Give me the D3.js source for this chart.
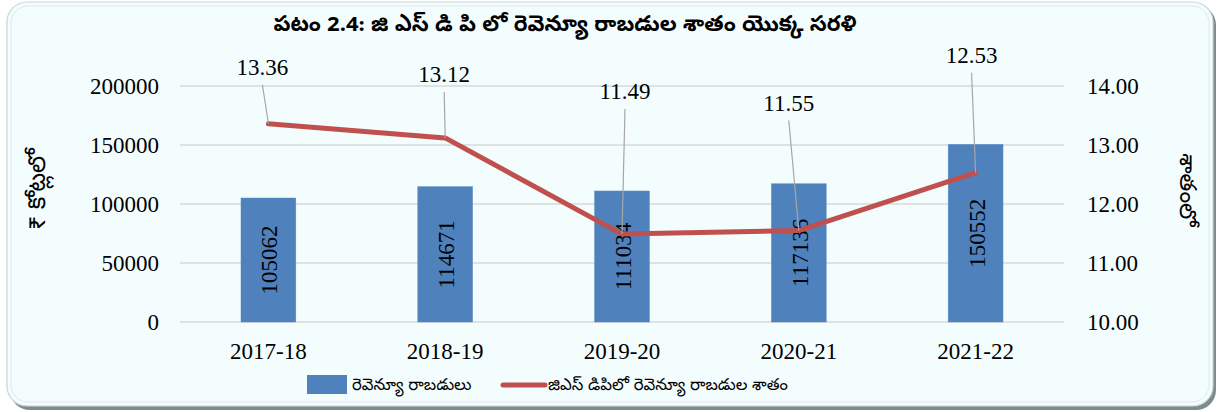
<!DOCTYPE html>
<html><head><meta charset="utf-8">
<script src="https://cdn.jsdelivr.net/npm/d3@7"></script>
<style>
html,body{margin:0;padding:0;background:#fff;}
svg{display:block;}
.serif{font-family:"Liberation Serif","Times New Roman",serif;}
.tel{font-family:"Noto Sans Telugu","Gautami","Noto Sans",sans-serif;}
</style></head>
<body>
<svg id="c" width="1220" height="412"></svg>
<script>
const categories = ["2017-18","2018-19","2019-20","2020-21","2021-22"];
const revenue = [105062,114671,111034,117136,150552];
const percent = [13.36,13.12,11.49,11.55,12.53];
const leftTicks = [0,50000,100000,150000,200000];
const rightTicks = [10,11,12,13,14];
const titleText = "పటం 2.4: జి ఎస్ డి పి లో రెవెన్యూ రాబడుల శాతం యొక్క సరళి";
const leftTitle = "₹ కోట్లలో";
const rightTitle = "శాతంలో";
const legendBar = "రెవెన్యూ రాబడులు";
const legendLine = "జిఎస్ డిపిలో రెవెన్యూ రాబడుల శాతం";
// label placement offsets (dx, dy of label baseline from point)
const labelOffsets = [[-6,-49],[-1,-56],[3,-135],[-10,-120],[-4,-110]];

const svg = d3.select("#c");

// frame
svg.append("rect").attr("x",10).attr("y",5).attr("width",1206).attr("height",405)
  .attr("rx",20).attr("fill","#7f8c8c");
svg.append("rect").attr("x",7).attr("y",2).attr("width",1206).attr("height",404)
  .attr("rx",20).attr("fill","#F4FDFE").attr("stroke","#c9d5d5").attr("stroke-width",1.2);
svg.append("rect").attr("x",11).attr("y",6).attr("width",1198).attr("height",396)
  .attr("rx",17).attr("fill","none").attr("stroke","#dfe8e8").attr("stroke-width",1);

const x0 = 180, x1 = 1064, yTop = 86, yBot = 322;
const x = d3.scaleBand().domain(categories).range([x0,x1]).paddingInner(0.69).paddingOuter(0.345);
const yL = d3.scaleLinear().domain([0,200000]).range([yBot,yTop]);
const yR = d3.scaleLinear().domain([10,14]).range([yBot,yTop]);

// gridlines
svg.append("g").selectAll("line").data(leftTicks).join("line")
  .attr("x1",x0).attr("x2",x1).attr("y1",d=>yL(d)).attr("y2",d=>yL(d))
  .attr("stroke","#d9d9d9").attr("stroke-width",1.5);

// left axis
const axL = svg.append("g").attr("transform",`translate(${x0},0)`)
  .call(d3.axisLeft(yL).tickValues(leftTicks).tickSize(0).tickPadding(21).tickFormat(d3.format("d")));
axL.select(".domain").remove();
axL.selectAll("text").attr("class","serif").attr("font-size",23).attr("fill","#000").attr("dy","0.33em");

// right axis
const axR = svg.append("g").attr("transform",`translate(${x1},0)`)
  .call(d3.axisRight(yR).tickValues(rightTicks).tickSize(0).tickPadding(23).tickFormat(d3.format(".2f")));
axR.select(".domain").remove();
axR.selectAll("text").attr("class","serif").attr("font-size",23).attr("fill","#000").attr("dy","0.33em");

// bottom axis
const axB = svg.append("g").attr("transform",`translate(0,${yBot})`)
  .call(d3.axisBottom(x).tickSize(0).tickPadding(21));
axB.select(".domain").remove();
axB.selectAll("text").attr("class","serif").attr("font-size",23).attr("fill","#000");

// bars
svg.append("g").selectAll("rect").data(revenue).join("rect")
  .attr("x",(d,i)=>x(categories[i])).attr("width",x.bandwidth())
  .attr("y",d=>yL(d)).attr("height",d=>yBot-yL(d))
  .attr("fill","#4F81BD").attr("stroke","#5b8cc6").attr("stroke-width",0.5);

// bar labels
svg.append("g").selectAll("text").data(revenue).join("text")
  .attr("class","serif").attr("font-size",23).attr("fill","#000")
  .attr("text-anchor","middle")
  .attr("transform",(d,i)=>{
    const cx = x(categories[i]) + x.bandwidth()/2 + 9;
    const cy = (yL(d)+yBot)/2;
    return `translate(${cx},${cy}) rotate(-90)`;
  })
  .text(d=>d);

// line
const cxs = categories.map(c=>x(c)+x.bandwidth()/2);
const line = d3.line().x((d,i)=>cxs[i]).y(d=>yR(d));
svg.append("path").datum(percent).attr("d",line)
  .attr("fill","none").attr("stroke","#C0504D").attr("stroke-width",5)
  .attr("stroke-linecap","round").attr("stroke-linejoin","round");

// leader lines and labels
const lg = svg.append("g");
percent.forEach((v,i)=>{
  const px = cxs[i], py = yR(v);
  const [dx,dy] = labelOffsets[i];
  const lx = px+dx, ly = py+dy;
  lg.append("line").attr("x1",lx).attr("y1",ly+10).attr("x2",px).attr("y2",py)
    .attr("stroke","#a6a6a6").attr("stroke-width",1.2);
  lg.append("text").attr("class","serif").attr("font-size",23).attr("fill","#000")
    .attr("text-anchor","middle").attr("x",lx).attr("y",ly).text(d3.format(".2f")(v));
});

// title
svg.append("text").attr("class","tel").attr("x",565).attr("y",31)
  .attr("text-anchor","middle").attr("font-size",22).attr("font-weight","bold")
  .attr("fill","#000").text(titleText);

// axis titles
svg.append("text").attr("class","tel").attr("font-size",24).attr("fill","#000")
  .attr("text-anchor","middle").attr("transform","translate(45,189) rotate(-90)").text(leftTitle);
svg.append("text").attr("class","tel").attr("font-size",23).attr("fill","#000")
  .attr("text-anchor","middle").attr("transform","translate(1180,190) rotate(90)").text(rightTitle);

// legend
const leg = svg.append("g");
leg.append("rect").attr("x",307).attr("y",375).attr("width",40).attr("height",19).attr("fill","#4F81BD");
leg.append("text").attr("class","tel").attr("font-size",16.5).attr("fill","#000")
  .attr("x",352).attr("y",390).text(legendBar);
leg.append("line").attr("x1",503).attr("x2",545).attr("y1",385).attr("y2",385)
  .attr("stroke","#C0504D").attr("stroke-width",5).attr("stroke-linecap","round");
leg.append("text").attr("class","tel").attr("font-size",16.5).attr("fill","#000")
  .attr("x",548).attr("y",390).text(legendLine);
</script>
</body></html>
